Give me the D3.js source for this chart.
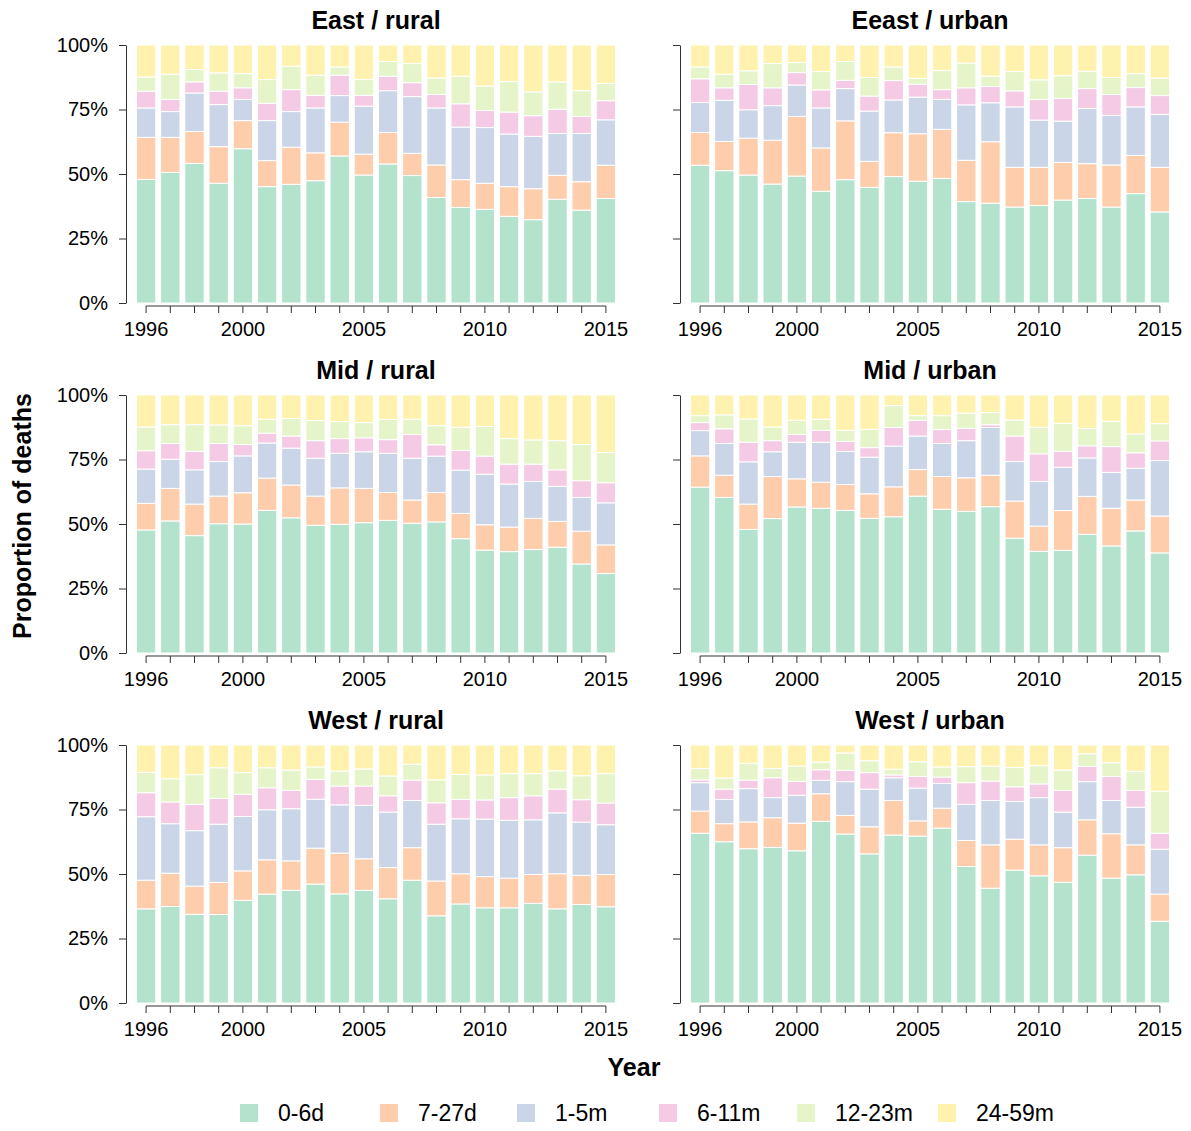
<!DOCTYPE html>
<html>
<head>
<meta charset="utf-8">
<script src="https://cdn.jsdelivr.net/npm/d3@7/dist/d3.min.js"></script>
<style>
  body { margin: 0; background: #fff; }
  text { font-family: "Liberation Sans", Arial, sans-serif; }
</style>
</head>
<body>
<div id="chart"></div>
<script>
// categories
const years = [1996, 1997, 1998, 1999, 2000, 2001, 2002, 2003, 2004, 2005,
               2006, 2007, 2008, 2009, 2010, 2011, 2012, 2013, 2014, 2015];
const ageGroups = ['0-6d', '7-27d', '1-5m', '6-11m', '12-23m', '24-59m'];
const yTicks = [0, 25, 50, 75, 100];
const labelYears = [1996, 2000, 2005, 2010, 2015];
const panelTitles = ['East / rural', 'Eeast / urban', 'Mid / rural', 'Mid / urban', 'West / rural', 'West / urban'];

// proportion of deaths (%), one row per age group, one value per year
const eastRural = [
  [47.9, 50.6, 54.1, 46.4, 59.8, 45.1, 46.0, 47.4, 57.0, 49.6, 53.9, 49.4, 40.9, 37.0, 36.3, 33.6, 32.3, 40.2, 36.0, 40.5],
  [16.3, 13.6, 12.4, 14.2, 10.9, 10.1, 14.4, 10.8, 13.1, 8.1, 12.2, 8.6, 12.6, 10.8, 10.1, 11.5, 12.0, 9.3, 11.0, 12.9],
  [11.4, 10.0, 14.9, 16.3, 8.2, 15.5, 13.8, 17.4, 10.3, 18.6, 16.2, 22.0, 22.1, 20.4, 21.6, 20.4, 20.3, 16.2, 18.7, 17.6],
  [6.5, 4.7, 4.3, 5.2, 4.5, 6.7, 8.5, 4.9, 7.9, 4.2, 5.6, 5.4, 5.2, 9.0, 6.6, 8.5, 8.0, 9.4, 6.6, 7.4],
  [5.5, 9.8, 4.8, 7.1, 5.5, 9.2, 9.1, 7.8, 3.2, 6.1, 5.7, 7.4, 6.4, 10.7, 9.5, 11.8, 9.2, 10.6, 10.0, 6.7],
  [12.4, 11.3, 9.5, 10.8, 11.1, 13.4, 8.2, 11.7, 8.5, 13.4, 6.4, 7.2, 12.8, 12.1, 15.9, 14.2, 18.2, 14.3, 17.7, 14.9]
];
const eastUrban = [
  [53.4, 51.3, 49.6, 46.1, 49.2, 43.3, 47.8, 44.8, 49.0, 47.2, 48.3, 39.3, 38.7, 37.2, 37.8, 39.9, 40.5, 37.2, 42.4, 35.3],
  [12.7, 11.3, 14.3, 17.0, 23.1, 16.8, 22.8, 10.1, 17.0, 18.4, 19.0, 16.0, 23.8, 15.4, 14.8, 14.6, 13.5, 16.3, 14.8, 17.3],
  [11.6, 16.0, 11.0, 13.4, 12.2, 15.5, 12.5, 19.5, 12.7, 14.2, 11.6, 21.5, 15.1, 23.4, 18.3, 16.0, 21.4, 19.2, 18.8, 20.5],
  [9.2, 4.8, 9.8, 6.9, 4.8, 7.0, 3.2, 5.8, 7.5, 5.0, 3.8, 6.6, 6.3, 6.2, 8.0, 8.8, 7.7, 8.1, 7.5, 7.3],
  [4.6, 5.3, 5.3, 9.4, 3.9, 7.1, 7.3, 7.2, 5.3, 2.3, 7.4, 9.6, 4.0, 7.5, 7.6, 8.8, 6.7, 6.6, 5.4, 6.8],
  [8.5, 11.3, 10.0, 7.2, 6.8, 10.3, 6.4, 12.6, 8.5, 12.9, 9.9, 7.0, 12.1, 10.3, 13.5, 11.9, 10.2, 12.6, 11.1, 12.8]
];
const midRural = [
  [47.7, 51.2, 45.5, 50.1, 50.0, 55.3, 52.4, 49.5, 49.9, 50.5, 51.4, 50.3, 50.8, 44.3, 39.9, 39.3, 40.1, 41.0, 34.5, 30.8],
  [10.3, 12.6, 12.2, 10.7, 12.1, 12.5, 12.7, 11.3, 14.1, 13.3, 10.8, 9.0, 11.4, 9.8, 9.8, 9.5, 12.1, 10.0, 12.7, 11.1],
  [13.3, 11.3, 13.3, 13.4, 14.3, 13.6, 14.3, 14.7, 13.4, 14.2, 15.2, 16.2, 14.1, 16.8, 19.6, 16.7, 14.3, 13.6, 13.1, 16.3],
  [7.1, 6.1, 7.2, 7.0, 4.4, 3.8, 4.7, 6.8, 5.7, 5.4, 5.3, 9.2, 4.4, 7.6, 7.0, 7.7, 6.7, 6.4, 6.5, 7.8],
  [9.2, 7.3, 10.3, 7.2, 7.3, 5.4, 6.8, 7.8, 6.6, 5.9, 7.8, 5.9, 7.4, 9.0, 11.5, 9.9, 9.4, 11.3, 14.0, 11.7],
  [12.4, 11.5, 11.5, 11.6, 11.9, 9.4, 9.1, 9.9, 10.3, 10.7, 9.5, 9.4, 11.9, 12.5, 12.2, 16.9, 17.4, 17.7, 19.2, 22.3]
];
const midUrban = [
  [64.3, 60.3, 47.9, 52.1, 56.6, 56.1, 55.3, 52.2, 52.8, 60.8, 55.7, 54.9, 56.7, 44.5, 39.4, 39.8, 46.0, 41.5, 47.3, 38.8],
  [12.1, 8.6, 9.8, 16.3, 10.9, 10.1, 10.0, 9.5, 11.6, 10.3, 12.7, 13.0, 12.2, 14.4, 9.8, 15.4, 14.7, 14.6, 12.0, 14.3],
  [9.8, 12.3, 16.4, 9.6, 14.2, 15.5, 12.8, 14.2, 15.8, 13.0, 12.8, 14.4, 18.5, 15.3, 17.3, 16.8, 14.9, 13.9, 12.3, 21.5],
  [3.1, 5.7, 7.6, 4.3, 3.0, 4.6, 3.9, 3.7, 7.2, 6.1, 5.4, 4.8, 1.1, 9.9, 10.7, 6.2, 4.7, 10.0, 6.0, 7.6],
  [2.7, 5.4, 9.0, 5.3, 5.5, 4.3, 4.3, 7.1, 8.5, 1.8, 5.4, 5.9, 4.7, 6.2, 10.3, 10.8, 6.7, 9.8, 7.3, 6.7],
  [8.0, 7.7, 9.3, 12.4, 9.8, 9.4, 13.7, 13.3, 4.1, 8.0, 8.0, 7.0, 6.8, 9.7, 12.5, 11.0, 13.0, 10.2, 15.1, 11.1]
];
const westRural = [
  [36.5, 37.4, 34.4, 34.3, 39.8, 42.2, 43.7, 46.1, 42.3, 43.7, 40.4, 47.6, 33.8, 38.4, 36.9, 36.9, 38.6, 36.5, 38.2, 37.3],
  [11.1, 12.9, 10.9, 12.4, 11.4, 13.3, 11.4, 13.9, 15.8, 12.2, 12.1, 12.6, 13.5, 11.7, 12.1, 11.5, 11.2, 13.6, 11.3, 12.5],
  [24.6, 19.2, 21.5, 22.6, 21.1, 19.4, 20.2, 19.0, 18.7, 20.7, 21.5, 18.3, 22.0, 21.3, 22.3, 22.4, 21.2, 23.6, 20.6, 19.3],
  [9.3, 8.4, 10.2, 10.0, 8.6, 8.5, 7.1, 7.7, 7.3, 7.5, 6.3, 7.9, 8.3, 7.5, 7.4, 8.8, 9.3, 9.2, 8.7, 8.4],
  [7.9, 9.0, 11.5, 11.9, 8.4, 7.8, 7.9, 4.8, 5.8, 6.6, 7.7, 6.1, 8.9, 9.7, 9.7, 9.3, 8.6, 7.1, 9.3, 11.4],
  [10.6, 13.1, 11.5, 8.8, 10.7, 8.8, 9.7, 8.5, 10.1, 9.3, 12.0, 7.5, 13.5, 11.4, 11.6, 11.1, 11.1, 10.0, 11.9, 11.1]
];
const westUrban = [
  [65.8, 62.5, 59.8, 60.3, 59.0, 70.4, 65.5, 57.8, 65.1, 64.7, 67.8, 52.9, 44.5, 51.5, 49.3, 46.8, 57.3, 48.4, 49.7, 31.7],
  [8.6, 7.0, 10.4, 11.5, 10.7, 10.7, 7.2, 10.5, 13.4, 5.9, 7.7, 10.1, 16.8, 12.0, 12.0, 13.4, 13.7, 17.2, 11.6, 10.5],
  [11.0, 9.4, 12.9, 7.8, 10.8, 5.2, 13.1, 14.6, 8.8, 12.7, 9.6, 14.0, 17.2, 14.6, 18.3, 13.8, 14.8, 12.9, 14.6, 17.4],
  [1.1, 4.0, 3.3, 7.7, 5.4, 4.1, 4.4, 6.4, 1.1, 4.5, 2.5, 8.4, 7.5, 5.7, 5.3, 8.4, 5.9, 9.3, 6.5, 6.2],
  [4.4, 4.3, 6.5, 3.6, 5.9, 3.0, 6.7, 4.6, 2.2, 5.7, 3.9, 6.2, 5.8, 7.5, 7.1, 7.9, 4.9, 5.3, 7.4, 16.3],
  [9.1, 12.8, 7.1, 9.1, 8.2, 6.6, 3.1, 6.1, 9.4, 6.5, 8.5, 8.4, 8.2, 8.7, 8.0, 9.7, 3.4, 6.9, 10.2, 17.9]
];

const colors = ['#b3e2cd', '#fdcdac', '#cbd5e8', '#f4cae4', '#e6f5c9', '#fff2ae'];

const width = 1191, height = 1131;
const cols = [{x0: 134, x1: 618, axisX: 126}, {x0: 688, x1: 1172, axisX: 680}];
const rowTops = [45, 395, 745];
const plotH = 258;

const svg = d3.select('#chart').append('svg')
  .attr('width', width)
  .attr('height', height);

const panelData = [eastRural, eastUrban, midRural, midUrban, westRural, westUrban];

panelData.forEach((data, p) => {
  const col = cols[p % 2];
  const top = rowTops[Math.floor(p / 2)];

  const table = years.map((yr, i) => {
    const row = {year: yr};
    ageGroups.forEach((g, k) => { row[g] = data[k][i]; });
    return row;
  });
  const series = d3.stack().keys(ageGroups)(table);

  const x = d3.scaleBand()
    .domain(years)
    .range([col.x0, col.x1])
    .paddingInner(0.2)
    .paddingOuter(0.1);

  const y = d3.scaleLinear()
    .domain([0, 100])
    .range([top + plotH, top]);

  const g = svg.append('g');

  // bars
  g.selectAll('g.layer')
    .data(series)
    .join('g')
    .attr('class', 'layer')
    .attr('fill', (d, i) => colors[i])
    .selectAll('rect')
    .data(d => d)
    .join('rect')
    .attr('x', d => x(d.data.year))
    .attr('width', x.bandwidth())
    .attr('y', d => y(d[1]))
    .attr('height', d => y(d[0]) - y(d[1]))
    .attr('stroke', '#fff')
    .attr('stroke-width', 1);

  // y axis
  const yAxisG = g.append('g')
    .attr('transform', `translate(${col.axisX},0)`)
    .call(d3.axisLeft(y)
      .tickValues(yTicks)
      .tickSize(7)
      .tickSizeOuter(0)
      .tickPadding(11)
      .tickFormat(p % 2 === 0 ? d => d + '%' : () => ''));
  yAxisG.selectAll('text').attr('font-size', 20).attr('fill', '#000');
  yAxisG.selectAll('line, path').attr('stroke', '#333');

  // x axis, line only from first to last tick
  const axisY = top + plotH + 3;
  const xAxisG = g.append('g')
    .attr('transform', `translate(0,${axisY})`)
    .call(d3.axisBottom(x)
      .tickSize(7)
      .tickPadding(9)
      .tickFormat(d => labelYears.includes(d) ? d : ''));
  xAxisG.select('.domain').remove();
  xAxisG.append('line')
    .attr('x1', x(years[0]) + x.bandwidth() / 2)
    .attr('x2', x(years[years.length - 1]) + x.bandwidth() / 2)
    .attr('stroke', '#333');
  xAxisG.selectAll('text').attr('font-size', 20).attr('fill', '#000');
  xAxisG.selectAll('line').attr('stroke', '#333');

  // panel title
  g.append('text')
    .attr('x', (col.x0 + col.x1) / 2)
    .attr('y', top - 16)
    .attr('text-anchor', 'middle')
    .attr('font-size', 25)
    .attr('font-weight', 'bold')
    .text(panelTitles[p]);
});

// axis titles
svg.append('text')
  .attr('transform', 'translate(31,516) rotate(-90)')
  .attr('text-anchor', 'middle')
  .attr('font-size', 25)
  .attr('font-weight', 'bold')
  .text('Proportion of deaths');

svg.append('text')
  .attr('x', 634)
  .attr('y', 1076)
  .attr('text-anchor', 'middle')
  .attr('font-size', 25)
  .attr('font-weight', 'bold')
  .text('Year');

// legend
const legendX = [240, 380, 517, 659, 797, 938];
const legend = svg.append('g')
  .selectAll('g')
  .data(ageGroups)
  .join('g')
  .attr('transform', (d, i) => `translate(${legendX[i]},1113)`);

legend.append('rect')
  .attr('x', 0)
  .attr('y', -9)
  .attr('width', 18)
  .attr('height', 18)
  .attr('fill', (d, i) => colors[i]);

legend.append('text')
  .attr('x', 38)
  .attr('dy', '0.35em')
  .attr('font-size', 23)
  .text(d => d);
</script>
</body>
</html>
